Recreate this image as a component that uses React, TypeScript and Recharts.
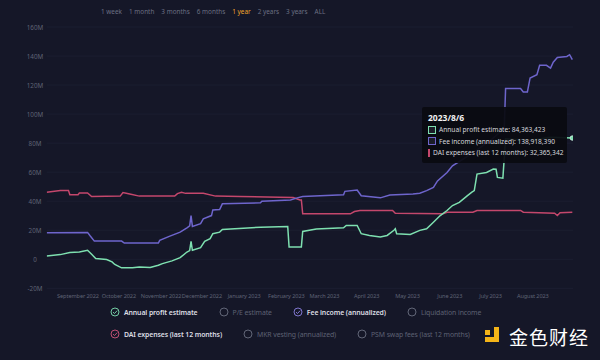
import { CartesianGrid, Line, LineChart, XAxis, YAxis } from "recharts";

// days counted from the first sample, values in millions
const profitDays = [0, 10, 17, 24, 30, 33, 36, 44, 48, 50, 55, 63, 68, 76, 82, 85, 92, 98, 103, 105, 106, 107, 113, 116, 120, 122, 127, 129, 157, 177, 178, 187, 188, 198, 218, 220, 228, 231, 237, 245, 250, 255, 256, 257, 267, 274, 279, 284, 289, 294, 298, 303, 309, 312, 314, 316, 323, 328, 330, 331, 335, 337, 355, 370, 386];
const profitValues = [2.3, 3.2, 4.6, 5, 6.2, 3.4, 0.5, -0.2, -1.8, -3.6, -5.9, -5.9, -5.3, -5.6, -4.1, -3, -1.1, 1.1, 5, 6, 12.3, 6.2, 8, 12.3, 14.2, 17.6, 18.7, 20.5, 22.1, 22.6, 8.4, 8.4, 19.2, 20.8, 21.7, 23.3, 23.3, 17.6, 16.4, 15.3, 16.4, 20, 21, 17.6, 17.1, 19.9, 21, 25.5, 30.1, 33.6, 37, 39.2, 43.8, 46.1, 47.3, 58.7, 59.8, 62.1, 62, 56.4, 55.9, 83, 82, 84, 83.5];

const feeDays = [0, 30, 32, 35, 55, 57, 82, 83, 90, 98, 103, 105, 106, 107, 113, 115, 121, 122, 127, 129, 157, 158, 179, 184, 188, 218, 219, 228, 231, 245, 252, 269, 274, 279, 284, 287, 294, 298, 311, 326, 336, 337, 348, 350, 353, 355, 360, 362, 367, 370, 372, 375, 382, 384, 386];
const feeValues = [18.3, 18.5, 16, 12.5, 12.5, 11.2, 11.2, 13, 15.8, 18.7, 21.7, 23, 30.1, 22.6, 24.5, 27.9, 30.1, 34, 34.2, 38.2, 38.9, 39.9, 40.9, 42.3, 43.2, 44.5, 46.8, 47.7, 43.8, 42.3, 44.3, 45, 45.5, 47.3, 49.5, 54, 59.8, 64.4, 72, 82, 90, 117.6, 117.6, 115.3, 115.3, 124.9, 127.2, 133.6, 133.6, 131.7, 135.8, 139, 139.7, 140.9, 137.5];

const daiDays = [0, 10, 16, 17, 23, 24, 30, 33, 54, 56, 61, 68, 94, 96, 99, 102, 115, 124, 142, 171, 181, 186, 187, 188, 223, 226, 230, 254, 256, 291, 294, 313, 316, 348, 350, 373, 375, 377, 386];
const daiValues = [46.1, 47.3, 47.3, 44.5, 44.5, 45.7, 45.7, 43.2, 43.5, 45.9, 44.9, 43.5, 43.5, 45.2, 46.1, 45.4, 45.4, 43.5, 43.2, 42.8, 42.5, 40.9, 40.8, 31.3, 31.3, 32.9, 33.6, 33.6, 31.7, 31.3, 32.4, 32.4, 33.6, 33.6, 32.4, 31.7, 30.1, 32.0, 32.4];

const monthTicks = [23, 53, 84, 114, 145, 176, 204, 235, 265, 296, 326, 357];
const monthLabels = ["September 2022", "October 2022", "November 2022", "December 2022", "January 2023", "February 2023", "March 2023", "April 2023", "May 2023", "June 2023", "July 2023", "August 2023"];
const yTicks = [-20, 0, 20, 40, 60, 80, 100, 120, 140, 160];

const ranges = ["1 week", "1 month", "3 months", "6 months", "1 year", "2 years", "3 years", "ALL"];
const activeRange = "1 year";

const tooltipDate = "2023/8/6";
const tooltipNames = ["Annual profit estimate", "Fee income (annualized)", "DAI expenses (last 12 months)"];
const tooltipValues = [84363423, 138918390, 32365342];

const legendRow1 = [
  { name: "Annual profit estimate", color: "#7fe0b2", on: true },
  { name: "P/E estimate", color: "", on: false },
  { name: "Fee income (annualized)", color: "#8a80e0", on: true },
  { name: "Liquidation income", color: "", on: false },
];
const legendRow2 = [
  { name: "DAI expenses (last 12 months)", color: "#d0557a", on: true },
  { name: "MKR vesting (annualized)", color: "", on: false },
  { name: "PSM swap fees (last 12 months)", color: "", on: false },
];

const GREEN = "#7ee0b0";
const PURPLE = "#6e65cc";
const RED = "#c4476c";
const BG = "#151728";
const FONT = "'Noto Sans', 'Open Sans', sans-serif";

const toPoints = (days: number[], values: number[]) =>
  days.map((d, i) => ({ day: d, value: values[i] }));

const profitData = toPoints(profitDays, profitValues);
const feeData = toPoints(feeDays, feeValues);
const daiData = toPoints(daiDays, daiValues);

function YTick({ y, payload }: any) {
  const v = payload.value;
  return (
    <text x={35} y={y} dy={2.5} textAnchor="middle" fill="#5f6375" fontSize={6.3} fontFamily={FONT}>
      {v === 0 ? "0" : `${v}M`}
    </text>
  );
}

function XTick({ x, y, payload }: any) {
  return (
    <text x={x} y={y} dy={5} textAnchor="middle" fill="#5f6375" fontSize={5.6} letterSpacing={-0.1} fontFamily={FONT}>
      {monthLabels[monthTicks.indexOf(payload.value)]}
    </text>
  );
}

function LegendIcon({ on, color }: { on: boolean; color: string }) {
  return (
    <svg width={10} height={10} viewBox="0 0 10 10" style={{ marginRight: 4, flexShrink: 0 }}>
      <circle cx={5} cy={5} r={4} fill="none" stroke={on ? color : "#6a6e80"} strokeWidth={0.9} />
      {on && <path d="M3 5.1 L4.5 6.5 L7.2 3.6" fill="none" stroke={color} strokeWidth={0.9} />}
    </svg>
  );
}

function LegendRow({ items, top }: { items: typeof legendRow1; top: number }) {
  return (
    <div style={{ position: "absolute", left: 110, top, display: "flex", alignItems: "center", gap: 21 }}>
      {items.map((it) => (
        <div key={it.name} style={{ display: "flex", alignItems: "center" }}>
          <LegendIcon on={it.on} color={it.color} />
          <span
            style={{
              fontSize: 6.9,
              letterSpacing: -0.1,
              fontWeight: it.on ? 600 : 400,
              color: it.on ? "#dcdde3" : "#5d6173",
              whiteSpace: "nowrap",
            }}
          >
            {it.name}
          </span>
        </div>
      ))}
    </div>
  );
}

export default function App() {
  const lastDot = (len: number) => (props: any) => {
    if (props.index !== len - 1) return <g key={props.index} />;
    return (
      <circle key={props.index} cx={props.cx} cy={props.cy} r={2.2} fill={GREEN} stroke="#d8f5e8" strokeWidth={0.8} />
    );
  };

  return (
    <div
      style={{
        position: "absolute",
        left: 0,
        top: 0,
        width: 600,
        height: 360,
        background: BG,
        overflow: "hidden",
        fontFamily: FONT,
      }}
    >
      <div style={{ position: "absolute", left: 101, top: 7, display: "flex", gap: 7 }}>
        {ranges.map((r) => (
          <span key={r} style={{ fontSize: 6.4, color: r === activeRange ? "#f0a52c" : "#6b6f82" }}>
            {r}
          </span>
        ))}
      </div>

      <LineChart width={600} height={310} margin={{ top: 27, right: 27, bottom: 0, left: 0 }}>
        <CartesianGrid vertical={false} stroke="#202437" strokeWidth={0.6} />
        <XAxis
          type="number"
          dataKey="day"
          domain={[0, 386.5]}
          ticks={monthTicks}
          tick={<XTick />}
          axisLine={false}
          tickLine={false}
          tickSize={0}
          tickMargin={5}
          height={21.7}
          interval={0}
          allowDataOverflow
        />
        <YAxis
          type="number"
          domain={[-20, 160]}
          ticks={yTicks}
          tick={<YTick />}
          axisLine={false}
          tickLine={false}
          width={46.7}
          interval={0}
        />
        <Line data={daiData} dataKey="value" type="linear" stroke={RED} strokeWidth={1.5} dot={false} isAnimationActive={false} />
        <Line data={feeData} dataKey="value" type="linear" stroke={PURPLE} strokeWidth={1.5} dot={false} isAnimationActive={false} />
        <Line
          data={profitData}
          dataKey="value"
          type="linear"
          stroke={GREEN}
          strokeWidth={1.5}
          dot={lastDot(profitData.length)}
          isAnimationActive={false}
        />
      </LineChart>

      <div
        style={{
          position: "absolute",
          left: 422,
          top: 107,
          width: 145,
          height: 56,
          background: "rgba(10,11,17,0.94)",
          borderRadius: 2,
          boxSizing: "border-box",
          padding: "5px 6px",
        }}
      >
        <div style={{ fontSize: 8.5, fontWeight: 700, color: "#f2f2f2", lineHeight: "11px", marginBottom: 1 }}>
          {tooltipDate}
        </div>
        {tooltipNames.map((n, i) => (
          <div key={n} style={{ display: "flex", alignItems: "center", height: 11.5 }}>
            <span
              style={{
                width: 6,
                height: 6,
                border: `1px solid ${[GREEN, PURPLE, RED][i]}`,
                background: "#1b1d28",
                marginRight: 3,
              }}
            />
            <span style={{ fontSize: 6.6, color: "#d6d7dd", whiteSpace: "nowrap" }}>
              {n}: {tooltipValues[i].toLocaleString("en-US")}
            </span>
          </div>
        ))}
      </div>

      <LegendRow items={legendRow1} top={307} />
      <LegendRow items={legendRow2} top={329} />

      <div style={{ position: "absolute", left: 485, top: 327, width: 22, height: 18 }}>
        <div style={{ position: "absolute", left: 0, top: 3, width: 5, height: 5, background: "#f4b418" }} />
        <div style={{ position: "absolute", left: 9, top: 0, width: 5, height: 14, background: "#f4b418" }} />
        <div style={{ position: "absolute", left: 0, top: 10, width: 14, height: 5, background: "#f4b418" }} />
      </div>
      <div
        style={{
          position: "absolute",
          left: 509,
          top: 325,
          fontSize: 19,
          color: "#ffffff",
          fontFamily: "'Noto Sans CJK SC', sans-serif",
          letterSpacing: 1,
          lineHeight: "24px",
        }}
      >
        金色财经
      </div>
    </div>
  );
}
